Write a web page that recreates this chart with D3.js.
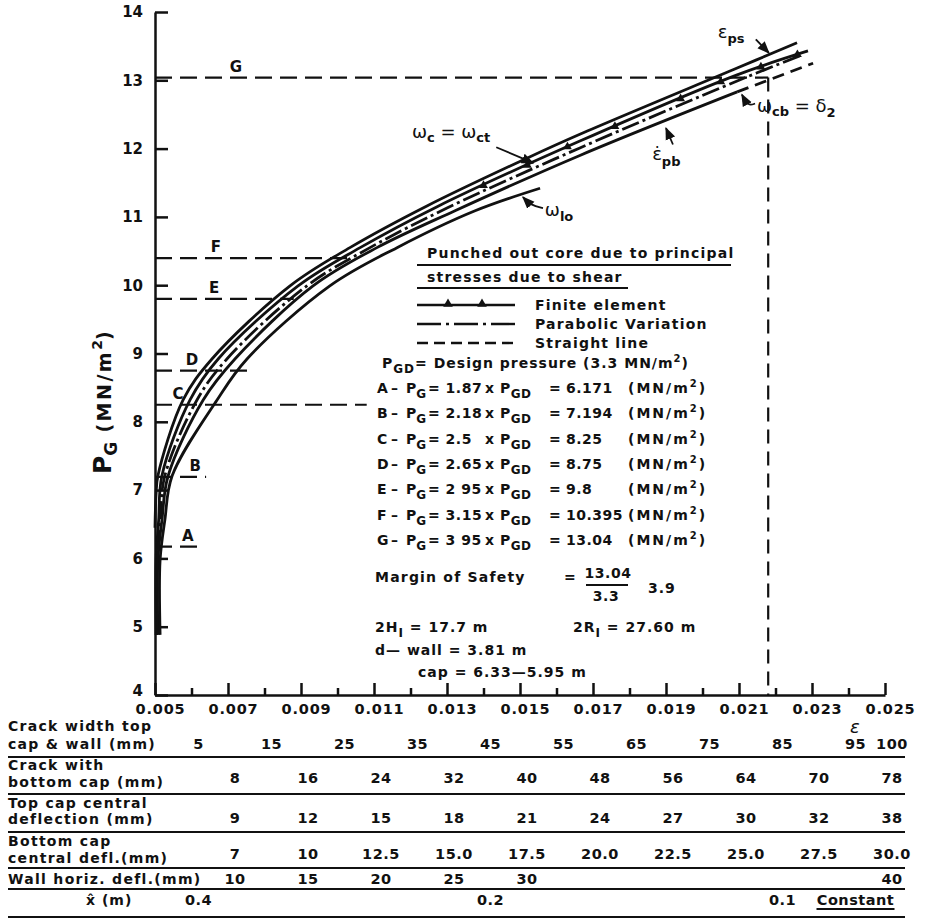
<!DOCTYPE html>
<html>
<head>
<meta charset="utf-8">
<script src="https://cdn.jsdelivr.net/npm/d3@7/dist/d3.min.js"></script>
<style>
  body { margin: 0; background: #fff; }
  svg text { font-family: "DejaVu Sans", sans-serif; font-weight: bold; fill: #111; }
</style>
</head>
<body>
<svg id="chart" width="929" height="918"></svg>
<script>
// ticks
var xMajor = [0.005, 0.007, 0.009, 0.011, 0.013, 0.015, 0.017, 0.019, 0.021, 0.023, 0.025];
var xMinor = [0.006, 0.008, 0.010, 0.012, 0.014, 0.016, 0.018, 0.020, 0.022, 0.024];
var yMajor = [4, 5, 6, 7, 8, 9, 10, 11, 12, 13, 14];

// curves, [strain, P_G]
var epsPs = [[0.00500, 6.45], [0.00503, 6.95], [0.00508, 7.21], [0.00577, 8.32], [0.00656, 8.92],
             [0.00870, 9.99], [0.01034, 10.55], [0.01245, 11.16], [0.01519, 11.86], [0.01664, 12.21],
             [0.02095, 13.18], [0.02259, 13.55]];
var finiteElement = [[0.00503, 4.88], [0.00503, 5.98], [0.00510, 6.56], [0.00519, 7.21], [0.00596, 8.32],
             [0.00673, 8.92], [0.00892, 9.99], [0.01062, 10.55], [0.01273, 11.15], [0.01664, 12.11],
             [0.02095, 13.08], [0.02289, 13.43]];
var parabolic = [[0.00505, 4.88], [0.00505, 5.98], [0.00514, 6.56], [0.00527, 7.21], [0.00615, 8.32],
             [0.00697, 8.92], [0.00916, 9.99], [0.01089, 10.55], [0.01300, 11.13], [0.01664, 12.01],
             [0.02095, 12.99], [0.02267, 13.36]];
var omegaCb = [[0.00508, 4.88], [0.00508, 5.98], [0.00519, 6.56], [0.00536, 7.21], [0.00632, 8.32],
             [0.00719, 8.92], [0.00933, 9.99], [0.01108, 10.55], [0.01322, 11.09], [0.01664, 11.90],
             [0.02095, 12.83]];
var straightLine = [[0.02095, 12.83], [0.02303, 13.25]];
var omegaLo = [[0.00514, 4.88], [0.00514, 5.98], [0.00527, 6.56], [0.00547, 7.21], [0.00670, 8.32],
             [0.00752, 8.92], [0.00979, 9.99], [0.01163, 10.55], [0.01377, 11.09], [0.01555, 11.42]];
var feMarkerEps = [0.0140, 0.0152, 0.0163, 0.0176, 0.0194, 0.0205, 0.0216, 0.0226];

// design pressure levels
var levelNames = ["A", "B", "C", "D", "E", "F", "G"];
var levelFactors = ["1.87", "2.18", "2.5", "2.65", "2 95", "3.15", "3 95"];
var levelValues = [6.171, 7.194, 8.25, 8.75, 9.8, 10.395, 13.04];
var levelText = ["6.171", "7.194", "8.25", "8.75", "9.8", "10.395", "13.04"];
var levelEndEps = [0.00634, 0.0064, 0.0108, 0.0076, 0.0088, 0.0104, 0.0218];
var levelLabelEps = [0.0059, 0.0061, 0.00563, 0.00601, 0.00662, 0.00667, 0.00722];
var collapseEps = 0.0218;

// table under the axis
var crackTopEps = [0.006, 0.008, 0.010, 0.012, 0.014, 0.016, 0.018, 0.020, 0.022, 0.024, 0.025];
var crackTop = ["5", "15", "25", "35", "45", "55", "65", "75", "85", "95", "100"];
var columnEps = [0.007, 0.009, 0.011, 0.013, 0.015, 0.017, 0.019, 0.021, 0.023, 0.025];
var crackBottom = ["8", "16", "24", "32", "40", "48", "56", "64", "70", "78"];
var topCapDefl = ["9", "12", "15", "18", "21", "24", "27", "30", "32", "38"];
var bottomCapDefl = ["7", "10", "12.5", "15.0", "17.5", "20.0", "22.5", "25.0", "27.5", "30.0"];
var wallDefl = ["10", "15", "20", "25", "30", "", "", "", "", "40"];
var xHatEps = [0.006, 0.014, 0.022, 0.024];
var xHat = ["0.4", "0.2", "0.1", "Constant"];

var svg = d3.select('#chart');
var x = d3.scaleLinear().domain([0.005, 0.025]).range([155, 885]);
var y = d3.scaleLinear().domain([4, 14]).range([695, 12]);

svg.append('defs').append('marker')
   .attr('id', 'arrow').attr('viewBox', '0 0 10 10').attr('refX', 9).attr('refY', 5)
   .attr('markerWidth', 7).attr('markerHeight', 7).attr('orient', 'auto')
   .append('path').attr('d', 'M0,1 L10,5 L0,9 Z').attr('fill', '#111');

// axes
var yAxis = svg.append('g')
   .attr('transform', 'translate(155,0)')
   .call(d3.axisLeft(y).tickValues(yMajor).tickSizeInner(-13).tickSizeOuter(0).tickPadding(12));
var xAxis = svg.append('g')
   .attr('transform', 'translate(0,695)')
   .call(d3.axisBottom(x).tickValues(xMajor).tickSizeInner(-12).tickSizeOuter(0).tickPadding(9)
           .tickFormat(d3.format('.3f')));
var xMinorAxis = svg.append('g')
   .attr('transform', 'translate(0,695)')
   .call(d3.axisBottom(x).tickValues(xMinor).tickSizeInner(-7).tickSizeOuter(0).tickFormat(''));
xMinorAxis.select('.domain').remove();

svg.selectAll('.domain, .tick line').attr('stroke', '#111').attr('stroke-width', 2.5);
yAxis.selectAll('text').style('font-size', '15px').style('font-family', '"DejaVu Sans", sans-serif')
     .style('font-weight', 'bold').attr('fill', '#111');
// the bottom "4" sits just above the first strain label
yAxis.selectAll('.tick text').filter(function (d) { return d === 4; }).attr('dy', '0.05em');
xAxis.selectAll('text').style('font-size', '14.5px').style('font-family', '"DejaVu Sans", sans-serif')
     .style('font-weight', 'bold').attr('fill', '#111').attr('letter-spacing', 0.8).attr('dx', 5);

svg.append('text').attr('x', 850).attr('y', 733).style('font-size', '18px')
   .style('font-style', 'italic').style('font-weight', 'normal').text('ε');

// y title
var yTitle = svg.append('text').attr('transform', 'translate(111,474) rotate(-90)')
   .style('font-size', '25px');
yTitle.append('tspan').text('P');
yTitle.append('tspan').text('G').attr('dy', 6).style('font-size', '17px');
yTitle.append('tspan').text(' (MN/m').attr('dy', -6).style('font-size', '19px').attr('letter-spacing', 2.5);
yTitle.append('tspan').text('2').attr('dy', -9).style('font-size', '14px');
yTitle.append('tspan').text(')').attr('dy', 9).style('font-size', '19px');

// design level dashed lines
var levels = svg.append('g');
levelValues.forEach(function (v, i) {
   levels.append('line')
      .attr('x1', x(0.005)).attr('x2', x(levelEndEps[i]))
      .attr('y1', y(v)).attr('y2', y(v))
      .attr('stroke', '#111').attr('stroke-width', 2.2).attr('stroke-dasharray', '17,8');
   levels.append('text')
      .attr('x', x(levelLabelEps[i])).attr('y', y(v) - 6)
      .attr('text-anchor', 'middle').style('font-size', '15px').text(levelNames[i]);
});
levels.append('line')
   .attr('x1', x(collapseEps)).attr('x2', x(collapseEps))
   .attr('y1', y(levelValues[6])).attr('y2', y(4))
   .attr('stroke', '#111').attr('stroke-width', 2.2).attr('stroke-dasharray', '14,8');

// curves
var line = d3.line()
   .x(function (d) { return x(d[0]); })
   .y(function (d) { return y(d[1]); })
   .curve(d3.curveCatmullRom.alpha(0.5));

var curves = [
   {data: epsPs, dash: null},
   {data: finiteElement, dash: null},
   {data: parabolic, dash: '18,4,3,4'},
   {data: omegaCb, dash: null},
   {data: omegaLo, dash: null},
   {data: straightLine, dash: '12,7'}
];
svg.append('g').selectAll('path')
   .data(curves)
   .enter().append('path')
   .attr('d', function (d) { return line(d.data); })
   .attr('fill', 'none')
   .attr('stroke', '#111')
   .attr('stroke-width', 2.8)
   .attr('stroke-dasharray', function (d) { return d.dash; });

// finite element triangles sit on their curve
var feAt = d3.scaleLinear()
   .domain(finiteElement.map(function (d) { return d[0]; }))
   .range(finiteElement.map(function (d) { return d[1]; }));
svg.append('g').selectAll('path')
   .data(feMarkerEps)
   .enter().append('path')
   .attr('d', d3.symbol().type(d3.symbolTriangle).size(34))
   .attr('transform', function (d) { return 'translate(' + x(d) + ',' + y(feAt(d)) + ')'; })
   .attr('fill', '#111');

// curve notes: text position, arrow from -> to (strain, P)
var notes = [
   {parts: [['ε', 0], ['ps', 5]], at: [0.02042, 13.62], from: [0.02146, 13.60], to: [0.02182, 13.40]},
   {parts: [['ω', 0], ['cb', 4], [' = δ', -4], ['2', 5]], at: [0.02149, 12.54], from: [0.02144, 12.66], to: [0.02108, 12.79], bend: [0.02125, 12.62]},
   {parts: [['ε̇', 0], ['pb', 6]], at: [0.01862, 11.83], from: [0.01919, 12.06], to: [0.01900, 12.30]},
   {parts: [['ω', 0], ['lo', 5]], at: [0.01568, 11.01], from: [0.01563, 11.13], to: [0.01508, 11.29], bend: [0.01530, 11.17]},
   {parts: [['ω', 0], ['c', 4], [' = ω', -4], ['ct', 4]], at: [0.01204, 12.16], from: [0.01435, 12.02], to: [0.01536, 11.79]}
];
var arrowLine = d3.line()
   .x(function (d) { return x(d[0]); })
   .y(function (d) { return y(d[1]); })
   .curve(d3.curveBasis);
notes.forEach(function (n) {
   var t = svg.append('text').attr('x', x(n.at[0])).attr('y', y(n.at[1]))
      .style('font-size', '18px').style('font-weight', 'normal');
   n.parts.forEach(function (p) {
      t.append('tspan').text(p[0]).attr('dy', p[1])
         .style('font-size', p[1] > 0 ? '13px' : '18px')
         .style('font-weight', p[1] > 0 ? 'bold' : 'normal');
   });
   var pts = n.bend ? [n.from, n.bend, n.to] : [n.from, n.to];
   svg.append('path').attr('d', arrowLine(pts)).attr('fill', 'none')
      .attr('stroke', '#111').attr('stroke-width', 1.8).attr('marker-end', 'url(#arrow)');
});

// legend block
var lg = svg.append('g');
function txt(xp, yp, s, size, ls) {
   return lg.append('text').attr('x', xp).attr('y', yp).style('font-size', (size || 14) + 'px')
      .attr('letter-spacing', ls === undefined ? 1 : ls).text(s);
}
function sub(t, s, dy) {
   t.append('tspan').text(s).attr('dy', dy).style('font-size', '12px');
   return t;
}
txt(427, 258, 'Punched out core due to principal', 14, 1.2);
txt(427, 282, 'stresses due to shear', 14, 1.2);
lg.append('line').attr('x1', 417).attr('x2', 731).attr('y1', 265).attr('y2', 265).attr('stroke', '#111').attr('stroke-width', 2.2);
lg.append('line').attr('x1', 417).attr('x2', 628).attr('y1', 288).attr('y2', 288).attr('stroke', '#111').attr('stroke-width', 2.2);

var keys = [
   {label: 'Finite element', dash: null, tri: true},
   {label: 'Parabolic Variation', dash: '24,5,3,5'},
   {label: 'Straight line', dash: '11,6'}
];
keys.forEach(function (k, i) {
   var ky = 305 + i * 19;
   lg.append('line').attr('x1', 417).attr('x2', 515).attr('y1', ky).attr('y2', ky)
      .attr('stroke', '#111').attr('stroke-width', 2.4).attr('stroke-dasharray', k.dash);
   if (k.tri) {
      [448, 482].forEach(function (tx) {
         lg.append('path').attr('d', d3.symbol().type(d3.symbolTriangle).size(40))
            .attr('transform', 'translate(' + tx + ',' + (ky - 1) + ')').attr('fill', '#111');
      });
   }
   txt(535, ky + 5, k.label, 14, 1.2);
});

var pgd = txt(382, 368, 'P', 14);
sub(pgd, 'GD', 5);
pgd.append('tspan').text('= Design pressure (3.3 MN/m').attr('dy', -5);
pgd.append('tspan').text('2').attr('dy', -6).style('font-size', '10px');
pgd.append('tspan').text(')').attr('dy', 6);

levelNames.forEach(function (n, i) {
   var ly = 393 + i * 25.3;
   txt(377, ly, n, 14, 0);
   txt(391, ly, '–', 14, 0);
   sub(txt(406, ly, 'P', 14, 0), 'G', 5);
   txt(428, ly, '= ' + levelFactors[i], 14, 0.5);
   sub(txt(485, ly, 'x P', 14, 0.5), 'GD', 5);
   txt(549, ly, '=');
   txt(566, ly, levelText[i], 14, 0.5);
   var u = txt(628, ly, '(MN/m', 14, 2);
   u.append('tspan').text('2').attr('dy', -6).style('font-size', '10px');
   u.append('tspan').text(')').attr('dy', 6);
});

txt(375, 582, 'Margin of Safety', 14, 1.2);
txt(564, 582, '=');
txt(608, 578, '13.04', 14, 0.5).attr('text-anchor', 'middle');
lg.append('line').attr('x1', 586).attr('x2', 628).attr('y1', 585).attr('y2', 585).attr('stroke', '#111').attr('stroke-width', 2);
txt(606, 601, '3.3', 14, 0.5).attr('text-anchor', 'middle');
txt(648, 593, '3.9');
sub(txt(375, 632, '2H'), 'I', 5).append('tspan').text(' = 17.7 m').attr('dy', -5);
sub(txt(573, 632, '2R'), 'I', 5).append('tspan').text(' = 27.60 m').attr('dy', -5);
txt(375, 655, 'd— wall = 3.81 m');
txt(418, 677, 'cap = 6.33—5.95 m');

// table
var tb = svg.append('g');
var rowLines = [757, 794, 832, 868, 889, 917];
rowLines.forEach(function (ry) {
   tb.append('line').attr('x1', 8).attr('x2', 905).attr('y1', ry).attr('y2', ry)
      .attr('stroke', '#111').attr('stroke-width', 2.2);
});
var rowLabels = [
   [['Crack width top', 731], ['cap & wall (mm)', 749]],
   [['Crack with', 770], ['bottom cap (mm)', 787]],
   [['Top cap central', 808], ['deflection (mm)', 824]],
   [['Bottom cap', 846], ['central defl.(mm)', 863]],
   [['Wall horiz. defl.(mm)', 884]]
];
rowLabels.forEach(function (r) {
   r.forEach(function (l) {
      tb.append('text').attr('x', 8).attr('y', l[1]).style('font-size', '14px')
         .attr('letter-spacing', 1.3).text(l[0]);
   });
});
tb.append('text').attr('x', 86).attr('y', 905).style('font-size', '14px').attr('letter-spacing', 1).text('x̂ (m)');

function tableRow(values, eps, by) {
   tb.append('g').selectAll('text')
      .data(values)
      .enter().append('text')
      .attr('x', function (d, i) { return x(eps[i]) + 7; })
      .attr('y', by)
      .attr('text-anchor', 'middle')
      .style('font-size', '14.5px')
      .attr('letter-spacing', 0.5)
      .text(function (d) { return d; });
}
tableRow(crackTop, crackTopEps, 749);
tableRow(crackBottom, columnEps, 783);
tableRow(topCapDefl, columnEps, 823);
tableRow(bottomCapDefl, columnEps, 859);
tableRow(wallDefl, columnEps, 884);
tableRow(xHat, xHatEps, 905);
tb.append('line').attr('x1', x(xHatEps[3]) - 32).attr('x2', x(xHatEps[3]) + 46)
   .attr('y1', 909).attr('y2', 909).attr('stroke', '#111').attr('stroke-width', 1.8);
</script>
</body>
</html>
